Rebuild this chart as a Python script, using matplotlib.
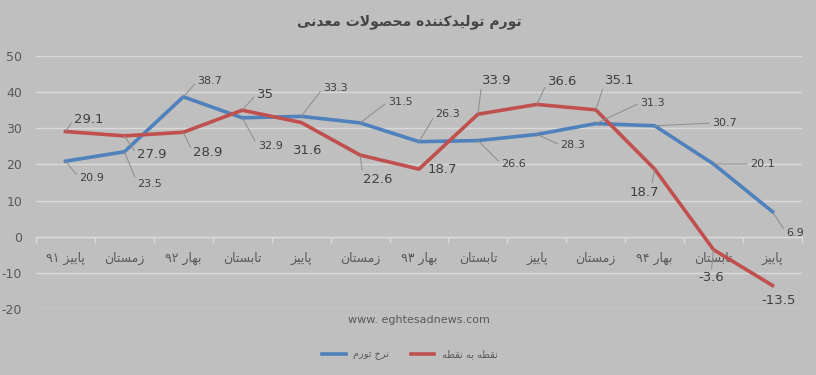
import matplotlib
matplotlib.use("Agg")
import matplotlib.pyplot as plt
import numpy as np

# ---------------- data ----------------
categories = ["پاییز ۹۱", "زمستان", "بهار ۹۲", "تابستان", "پاییز", "زمستان", "بهار ۹۳",
              "تابستان", "پاییز", "زمستان", "بهار ۹۴", "تابستان", "پاییز"]
inflation_rate = [20.9, 23.5, 38.7, 32.9, 33.3, 31.5, 26.3, 26.6, 28.3, 31.3, 30.7, 20.1, 6.9]
point_to_point = [29.1, 27.9, 28.9, 35, 31.6, 22.6, 18.7, 33.9, 36.6, 35.1, 18.7, -3.6, -13.5]
inflation_labels = ["20.9", "23.5", "38.7", "32.9", "33.3", "31.5", "26.3", "26.6", "28.3",
                    "31.3", "30.7", "20.1", "6.9"]
p2p_labels = ["29.1", "27.9", "28.9", "35", "31.6", "22.6", "18.7", "33.9", "36.6", "35.1",
              "18.7", "-3.6", "-13.5"]
series_names = ["نرخ تورم", "نقطه به نقطه"]
title_text = "تورم تولیدکننده محصولات معدنی"
watermark = "www. eghtesadnews.com"
yticks = [-20, -10, 0, 10, 20, 30, 40, 50]

# label placement (pixel offsets from point, leader flag)
blue_off = [(26.5, -17), (25.6, -32), (26.7, 16), (28, -28), (34, 28), (40, 21), (29, 27.6),
            (36, -23.4), (36, -10.6), (56.5, 20.6), (69.5, 2.7), (48.6, 0), (22.7, -21.2)]
blue_lead = [True] * 13
red_off = [(23.5, 12.5), (27.6, -19), (24.7, -20.7), (22.8, 16), (7, -27.5), (18, -24),
           (23, 0), (19, 34), (25.5, 23), (24.4, 29), (-10.5, -23), (-2.4, -28), (5.7, -14.5)]
red_lead = [True, True, True, True, False, True, False, True, True, True, True, True, False]

# ---------------- minimal Arabic/Persian shaping ----------------
FORMS = {
    'ا': ('\uFE8D', '\uFE8E', None, None),
    'ب': ('\uFE8F', '\uFE90', '\uFE91', '\uFE92'),
    'پ': ('\uFB56', '\uFB57', '\uFB58', '\uFB59'),
    'ت': ('\uFE95', '\uFE96', '\uFE97', '\uFE98'),
    'ح': ('\uFEA1', '\uFEA2', '\uFEA3', '\uFEA4'),
    'خ': ('\uFEA5', '\uFEA6', '\uFEA7', '\uFEA8'),
    'د': ('\uFEA9', '\uFEAA', None, None),
    'ر': ('\uFEAD', '\uFEAE', None, None),
    'ز': ('\uFEAF', '\uFEB0', None, None),
    'س': ('\uFEB1', '\uFEB2', '\uFEB3', '\uFEB4'),
    'ص': ('\uFEB9', '\uFEBA', '\uFEBB', '\uFEBC'),
    'ط': ('\uFEC1', '\uFEC2', '\uFEC3', '\uFEC4'),
    'ع': ('\uFEC9', '\uFECA', '\uFECB', '\uFECC'),
    'ق': ('\uFED5', '\uFED6', '\uFED7', '\uFED8'),
    'ک': ('\uFB8E', '\uFB8F', '\uFB90', '\uFB91'),
    'ل': ('\uFEDD', '\uFEDE', '\uFEDF', '\uFEE0'),
    'م': ('\uFEE1', '\uFEE2', '\uFEE3', '\uFEE4'),
    'ن': ('\uFEE5', '\uFEE6', '\uFEE7', '\uFEE8'),
    'ه': ('\uFEE9', '\uFEEA', '\uFEEB', '\uFEEC'),
    'و': ('\uFEED', '\uFEEE', None, None),
    'ی': ('\uFBFC', '\uFBFD', '\uFBFE', '\uFBFF'),
}


def dual(c):
    return c in FORMS and FORMS[c][2] is not None


def shape(text):
    out = []
    chars = list(text)
    i = 0
    n = len(chars)
    while i < n:
        c = chars[i]
        if c not in FORMS:
            out.append(c)
            i += 1
            continue
        prev_join = i > 0 and dual(chars[i - 1])
        if c == 'ل' and i + 1 < n and chars[i + 1] == 'ا':
            out.append('\uFEFC' if prev_join else '\uFEFB')
            i += 2
            continue
        next_join = dual(c) and i + 1 < n and chars[i + 1] in FORMS
        iso, fin, ini, med = FORMS[c]
        if prev_join and next_join:
            out.append(med)
        elif prev_join:
            out.append(fin)
        elif next_join:
            out.append(ini)
        else:
            out.append(iso)
        i += 1
    rev = out[::-1]
    res = []
    run = []
    for ch in rev:
        if ch.isdigit():
            run.append(ch)
        else:
            if run:
                res.extend(run[::-1])
                run = []
            res.append(ch)
    if run:
        res.extend(run[::-1])
    return ''.join(res)


# ---------------- figure ----------------
BG = '#BFBFBF'
GRID = '#D9D9D9'
TXT = '#595959'
LBL = '#404040'
BLUE = '#4F81BD'
RED = '#C0504D'
LEAD = '#8C8C8C'

plt.rcParams['font.family'] = ['DejaVu Sans']
plt.rcParams['axes.unicode_minus'] = False
fig = plt.figure(figsize=(8.16, 3.75), dpi=100, facecolor=BG)
ax = fig.add_axes([36 / 816, 1 - 309 / 375, (802 - 36) / 816, (309 - 56) / 375])
ax.set_facecolor(BG)

x = np.arange(len(categories))
ax.set_xlim(-0.5, len(categories) - 0.5)
ax.set_ylim(-20, 50)
ax.set_yticks(yticks)
ax.yaxis.grid(True, color=GRID, lw=1.0)
ax.set_axisbelow(True)
for s in ax.spines.values():
    s.set_visible(False)
ax.tick_params(axis='y', length=0, labelsize=9, labelcolor=TXT, pad=10)
ax.set_xticks([])

ax.axhline(0, color=GRID, lw=1.0, zorder=1)
for b in np.arange(-0.5, len(categories) + 0.5, 1.0):
    ax.plot([b, b], [0, -1.5], color=GRID, lw=1.0, zorder=1, clip_on=False)
for i, c in enumerate(categories):
    ax.text(i, -6, shape(c), ha='center', va='center', fontsize=9, color=TXT)

ax.plot(x, inflation_rate, color=BLUE, lw=2.6, solid_joinstyle='round', zorder=3,
        label=shape(series_names[0]))
ax.plot(x, point_to_point, color=RED, lw=2.6, solid_joinstyle='round', zorder=3,
        label=shape(series_names[1]))


def put_labels(vals, labels, offs, leads, size):
    for i, (v, t, (dx, dy), ld) in enumerate(zip(vals, labels, offs, leads)):
        if ld:
            rp = (0.0, 0.5) if dx > 12 else (0.5, 1.0 if dy < 0 else 0.0)
            if dx < -5:
                rp = (0.75, 1.0)
            ax.annotate(t, xy=(i, v), xytext=(dx, dy), textcoords='offset pixels',
                        ha='center', va='center', fontsize=size, color=LBL, zorder=4,
                        arrowprops=dict(arrowstyle='-', color=LEAD, lw=0.7,
                                        shrinkA=0, shrinkB=0, relpos=rp))
        else:
            ax.annotate(t, xy=(i, v), xytext=(dx, dy), textcoords='offset pixels',
                        ha='center', va='center', fontsize=size, color=LBL, zorder=4)


put_labels(inflation_rate, inflation_labels, blue_off, blue_lead, 8)
put_labels(point_to_point, p2p_labels, red_off, red_lead, 9.5)

fig.text(409 / 816, 1 - 22 / 375, shape(title_text), ha='center', va='center',
         fontsize=10, fontweight='bold', color='#454545')
fig.text(419 / 816, 1 - 320 / 375, watermark, ha='center', va='center',
         fontsize=8, color=TXT)

leg = fig.legend(loc='center', bbox_to_anchor=(410 / 816, 1 - 355 / 375), ncol=2,
                 frameon=False, fontsize=7, handlelength=2.4, columnspacing=2.2,
                 handletextpad=0.8)
for t in leg.get_texts():
    t.set_color(TXT)

fig.savefig('out.png', dpi=100, facecolor=BG)
